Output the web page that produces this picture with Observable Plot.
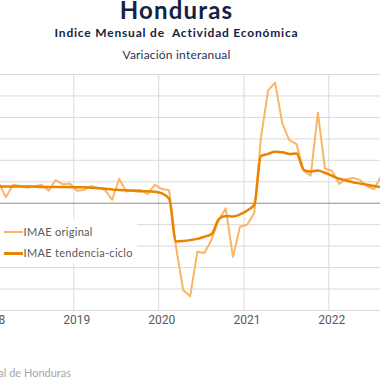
<!DOCTYPE html>
<html><head><meta charset="utf-8">
<script src="https://cdn.jsdelivr.net/npm/d3@7"></script>
<script src="https://cdn.jsdelivr.net/npm/@observablehq/plot@0.6"></script>
<style>
html,body{margin:0;padding:0;background:#fff;}
body{width:380px;height:380px;overflow:hidden;position:relative;font-family:Lato,"Open Sans",sans-serif;}
.t{position:absolute;left:0;width:353px;text-align:center;white-space:nowrap;}
#title{top:-2px;font-size:24px;line-height:24px;font-weight:700;color:#14233f;letter-spacing:1.2px;}
#sub{top:27px;font-size:12px;line-height:12px;font-weight:700;color:#14233f;letter-spacing:0.8px;}
#sub2{top:48.5px;font-size:12px;line-height:12px;color:#26344f;letter-spacing:0.2px;}
#chart{position:absolute;left:0;top:64px;z-index:1;}
#legend{position:absolute;left:0;top:219px;width:137px;height:45px;background:#fff;z-index:2;}
.row{position:absolute;left:0;height:14px;font-size:11px;line-height:14px;color:#595959;white-space:nowrap;}
.sw{position:absolute;left:4px;top:6px;width:19px;height:2px;}
.lab{position:absolute;left:23.5px;top:0;letter-spacing:0.3px;}
#cap{position:absolute;right:309px;top:367px;font-size:11px;line-height:12px;color:#a6a6a6;white-space:nowrap;}
</style></head>
<body>
<div class="t" id="title">Honduras</div>
<div class="t" id="sub">Indice Mensual de&nbsp; Actividad Económica</div>
<div class="t" id="sub2">Variación interanual</div>
<div id="chart"></div>
<div id="legend">
  <div class="row" style="top:6px"><div class="sw" style="background:#fbb566"></div><span class="lab">IMAE original</span></div>
  <div class="row" style="top:27px"><div class="sw" style="background:#e98300;height:2.5px"></div><span class="lab">IMAE tendencia-ciclo</span></div>
</div>
<div id="cap">Fuente: Banco Central de Honduras</div>
<script>
// months from 2018-02 to 2022-08
const months = [
 "2018-02","2018-03","2018-04","2018-05","2018-06","2018-07","2018-08","2018-09","2018-10","2018-11","2018-12",
 "2019-01","2019-02","2019-03","2019-04","2019-05","2019-06","2019-07","2019-08","2019-09","2019-10","2019-11","2019-12",
 "2020-01","2020-02","2020-03","2020-04","2020-05","2020-06","2020-07","2020-08","2020-09","2020-10","2020-11","2020-12",
 "2021-01","2021-02","2021-03","2021-04","2021-05","2021-06","2021-07","2021-08","2021-09","2021-10","2021-11","2021-12",
 "2022-01","2022-02","2022-03","2022-04","2022-05","2022-06","2022-07","2022-08"
];
const original = [
 4.5,1.4,4.3,4.0,3.6,3.9,4.3,2.9,5.4,4.4,4.6,
 2.9,3.1,4.0,3.6,3.1,0.8,5.7,2.7,3.1,3.1,2.1,4.3,
 3.3,3.0,-10.1,-20.2,-21.7,-11.3,-11.6,-8.5,-3.9,-1.2,-12.5,-5.5,
 -5.0,-2.2,15.1,26.3,28.1,18.6,14.7,13.8,7.6,6.4,21.1,8.1,
 7.5,4.5,5.6,5.9,5.4,3.9,3.3,6.4
];
const tendencia = [
 3.9,3.9,3.9,3.9,3.9,3.9,3.8,3.8,3.8,3.8,3.8,
 3.7,3.7,3.6,3.5,3.4,3.2,3.1,3.0,2.9,2.8,2.8,2.7,
 2.3,1.0,-8.9,-8.8,-8.6,-8.3,-7.8,-7.2,-3.7,-3.0,-3.1,-2.6,
 -1.7,-0.3,11.0,11.5,12.0,11.9,11.5,11.6,7.8,7.4,7.6,7.1,
 6.4,5.7,5.3,4.9,4.6,4.3,4.0,3.7
];
const yearLabels = [2018, 2019, 2020, 2021, 2022];
const gridValues = [-25,-20,-15,-10,-5,5,10,15,20,25,30];

const data = months.map((m, i) => {
  const [y, mo] = m.split("-").map(Number);
  return {date: new Date(Date.UTC(y, mo - 1, 15)), orig: original[i], trend: tendencia[i]};
});
const yearDates = yearLabels.map(y => new Date(Date.UTC(y, 0, 1)));

const chart = Plot.plot({
  width: 380, height: 280,
  marginTop: 10, marginBottom: 34, marginLeft: 0, marginRight: 0,
  x: {type: "utc", domain: [new Date(Date.UTC(2018, 1, 20)), new Date(Date.UTC(2022, 7, 11))], axis: null},
  y: {domain: [-25, 30], axis: null},
  style: {background: "transparent", overflow: "visible"},
  marks: [
    Plot.ruleY(gridValues, {stroke: "#d9d9d9", strokeWidth: 1}),
    Plot.ruleX(yearDates, {stroke: "#d9d9d9", strokeWidth: 1}),
    Plot.ruleY([0], {stroke: "#8c8c8c", strokeWidth: 1}),
    Plot.line(data, {x: "date", y: "orig", stroke: "#fbb566", strokeWidth: 2, clip: true}),
    Plot.line(data, {x: "date", y: "trend", stroke: "#e98300", strokeWidth: 2.5, curve: "monotone-x", clip: true}),
    Plot.text(yearLabels, {x: d => new Date(Date.UTC(d, 0, 1)), frameAnchor: "bottom", dy: 13, dx: 3,
      text: d => String(d), fontSize: 12, fill: "#595959", fontFamily: "Roboto, sans-serif"})
  ]
});
document.getElementById("chart").appendChild(chart);
</script>
</body></html>
